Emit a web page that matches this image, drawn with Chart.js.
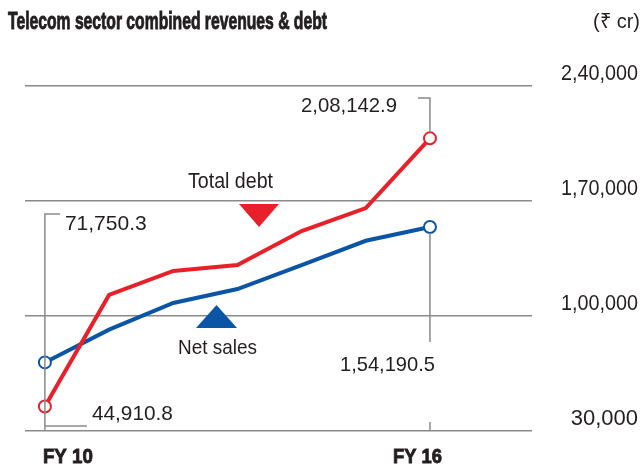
<!DOCTYPE html>
<html>
<head>
<meta charset="utf-8">
<script src="https://cdn.jsdelivr.net/npm/chart.js@4"></script>
<style>
  html, body { margin: 0; padding: 0; background: #fff; }
</style>
</head>
<body>
<canvas id="telecomChart" width="642" height="469"></canvas>
<script>
// data (values in Rs crore)
const years = ['FY 10', 'FY 11', 'FY 12', 'FY 13', 'FY 14', 'FY 15', 'FY 16'];
const totalDebt = [44910.8, 112800, 127400, 131000, 151700, 165700, 208142.9];
const netSales = [71750.3, 91700, 107900, 116400, 131000, 145800, 154190.5];
const yTicks = [30000, 100000, 170000, 240000];
const shownYears = [0, 6];

const FONT = '"Liberation Sans", Arial, sans-serif';
const RED = '#e8202a';
const BLUE = '#0b55a6';
const GREY = '#8a8a8a';
const TEXT = '#231f20';

// Indian digit grouping: 2,40,000 / 2,08,142.9
function formatIN(v) {
    const parts = String(v).split('.');
    let last3 = parts[0].slice(-3);
    let rest = parts[0].slice(0, -3);
    if (rest) last3 = ',' + last3;
    rest = rest.replace(/\B(?=(\d{2})+(?!\d))/g, ',');
    return rest + last3 + (parts[1] ? '.' + parts[1] : '');
}

// the original uses a condensed grotesque, so squeeze the text to its width
function label(c, str, x, baseline, size, width, align, bold) {
    c.save();
    c.font = (bold ? 'bold ' : '') + size + 'px ' + FONT;
    const sx = Math.min(1, width / c.measureText(str).width);
    c.translate(x, baseline);
    c.scale(sx, 1);
    c.textAlign = align;
    c.textBaseline = 'alphabetic';
    c.fillText(str, 0, 0);
    if (bold) {
        // heavier weight, like the original's black condensed face
        c.strokeStyle = c.fillStyle;
        c.lineWidth = 0.9;
        c.strokeText(str, 0, 0);
    }
    c.restore();
}

function endPointRadius(ctx) {
    return (ctx.dataIndex === 0 || ctx.dataIndex === years.length - 1) ? 6 : 0;
}

const decorations = {
    id: 'decorations',
    afterDraw(chart) {
        const c = chart.ctx;
        const x = chart.scales.x;
        const y = chart.scales.y;
        const last = years.length - 1;
        const x0 = x.getPixelForValue(0);
        const x6 = x.getPixelForValue(last);
        const bottom = chart.chartArea.bottom;

        c.save();
        c.fillStyle = TEXT;

        // title + unit
        label(c, 'Telecom sector combined revenues & debt', 8, 28.5, 23, 319, 'left', true);
        label(c, '(₹ cr)', 640, 28, 21, 47, 'right', false);

        // y tick labels, sitting above their grid lines
        yTicks.forEach(v => label(c, formatIN(v), 638, y.getPixelForValue(v) - 6, 22, 77, 'right', false));

        // x tick labels
        label(c, years[shownYears[0]], x.getPixelForValue(shownYears[0]) - 2, 463, 21, 50, 'left', true);
        label(c, years[shownYears[1]], x.getPixelForValue(shownYears[1]) + 12, 463, 21, 49, 'right', true);

        // leader lines
        c.strokeStyle = GREY;
        c.lineWidth = 1.5;
        c.beginPath();
        // net sales FY10
        c.moveTo(x0 + 15, 214); c.lineTo(x0, 214); c.lineTo(x0, bottom);
        // total debt FY10
        c.moveTo(x0, 426); c.lineTo(x0 + 42, 426);
        // total debt FY16
        c.moveTo(x6 - 12, 98); c.lineTo(x6, 98); c.lineTo(x6, y.getPixelForValue(totalDebt[last]) - 6);
        // net sales FY16
        c.moveTo(x6, y.getPixelForValue(netSales[last]) + 6); c.lineTo(x6, 342);
        c.moveTo(x6, 422); c.lineTo(x6, bottom);
        c.stroke();

        // end values
        label(c, formatIN(netSales[0]), x0 + 20, 230, 21, 82, 'left', false);
        label(c, formatIN(totalDebt[0]), x0 + 47, 420, 21, 81, 'left', false);
        label(c, formatIN(totalDebt[last]), x6 - 33, 111.5, 21, 96, 'right', false);
        label(c, formatIN(netSales[last]), x6 + 5, 370.5, 21, 95, 'right', false);

        // series labels with markers
        label(c, 'Total debt', 188, 187.5, 22, 85, 'left', false);
        label(c, 'Net sales', 178, 354, 21, 79, 'left', false);

        c.fillStyle = RED;
        c.beginPath();
        c.moveTo(239, 204); c.lineTo(279, 204); c.lineTo(259, 227);
        c.closePath(); c.fill();

        c.fillStyle = BLUE;
        c.beginPath();
        c.moveTo(196, 328); c.lineTo(237, 328); c.lineTo(216.5, 305);
        c.closePath(); c.fill();

        c.restore();
    }
};

const ctx = document.getElementById('telecomChart').getContext('2d');
new Chart(ctx, {
    type: 'line',
    data: {
        datasets: [{
            label: 'Total debt',
            data: totalDebt.map((v, i) => ({ x: i, y: v })),
            borderColor: RED,
            borderWidth: 4,
            pointRadius: endPointRadius,
            pointBackgroundColor: '#fff',
            pointBorderColor: RED,
            pointBorderWidth: 2,
            tension: 0
        },
        {
            label: 'Net sales',
            data: netSales.map((v, i) => ({ x: i, y: v })),
            borderColor: BLUE,
            borderWidth: 4,
            pointRadius: endPointRadius,
            pointBackgroundColor: '#fff',
            pointBorderColor: BLUE,
            pointBorderWidth: 2,
            tension: 0
        }]
    },
    options: {
        responsive: false,
        animation: false,
        layout: { padding: { top: 86, left: 25, right: 4, bottom: 0 } },
        plugins: {
            legend: { display: false },
            tooltip: { enabled: false }
        },
        scales: {
            x: {
                type: 'linear',
                min: -0.31,
                max: 7.59,
                afterBuildTicks: s => { s.ticks = shownYears.map(v => ({ value: v })); },
                afterFit: s => { s.height = 38; },
                grid: { display: false },
                border: { display: false },
                ticks: { display: false }
            },
            y: {
                position: 'right',
                min: 30000,
                max: 240000,
                afterBuildTicks: s => { s.ticks = yTicks.map(v => ({ value: v })); },
                afterFit: s => { s.width = 106; },
                grid: { color: GREY, lineWidth: 1.5, drawTicks: false },
                border: { display: false },
                ticks: { display: false }
            }
        }
    },
    plugins: [decorations]
});
</script>
</body>
</html>
